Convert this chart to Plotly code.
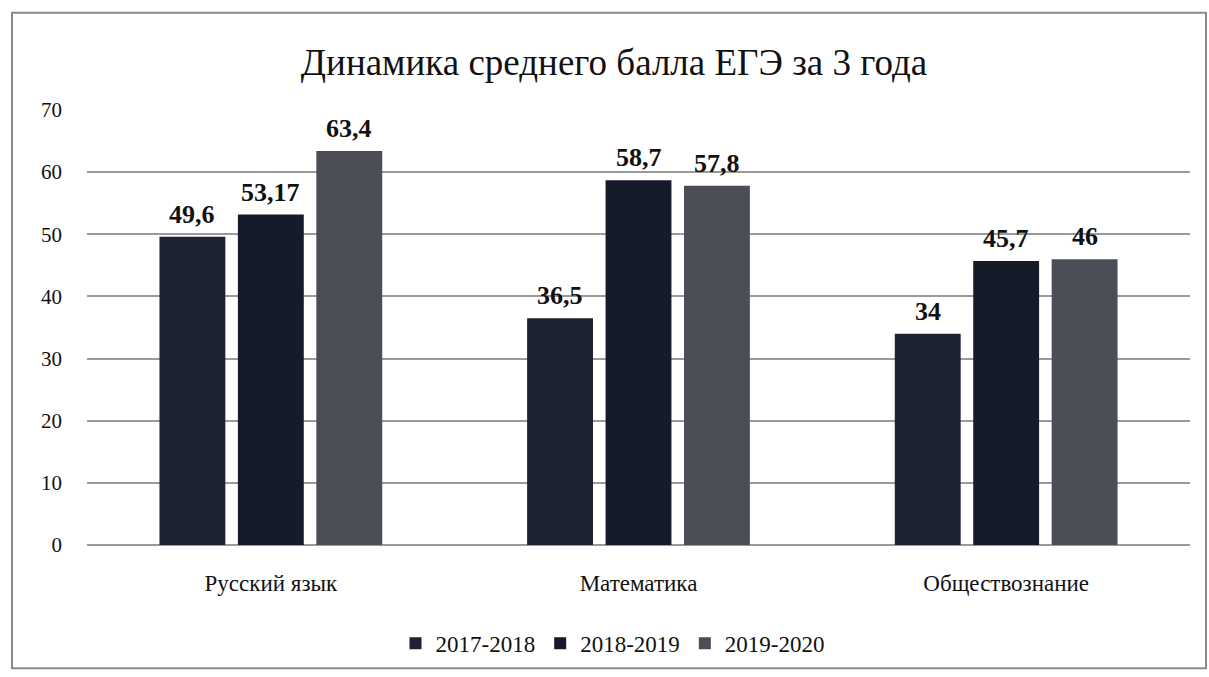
import plotly.graph_objects as go

categories = ["Русский язык", "Математика", "Обществознание"]
series_names = ["2017-2018", "2018-2019", "2019-2020"]
values_2017 = [49.6, 36.5, 34]
values_2018 = [53.17, 58.7, 45.7]
values_2019 = [63.4, 57.8, 46]
labels_2017 = ["49,6", "36,5", "34"]
labels_2018 = ["53,17", "58,7", "45,7"]
labels_2019 = ["63,4", "57,8", "46"]
y_ticks = [0, 10, 20, 30, 40, 50, 60, 70]

colors = ["#1d2331", "#151b29", "#4b4e56"]
FONT = "Liberation Serif, Times New Roman, serif"

W, H = 1209, 677
ml, mr, mt, mb = 87, 19, 110, 129
pw, ph = W - ml - mr, H - mt - mb
BARGAP = 0.36
BARGROUPGAP = 0.16

fig = go.Figure()
all_vals = [values_2017, values_2018, values_2019]
all_labs = [labels_2017, labels_2018, labels_2019]
for name, vals, col in zip(series_names, all_vals, colors):
    fig.add_trace(go.Bar(
        name=name, x=categories, y=vals,
        marker=dict(color=col, line=dict(width=0)),
    ))

# data labels placed above each bar
slot = (pw / len(categories)) * (1 - BARGAP) / len(series_names)
for i, (vals, labs) in enumerate(zip(all_vals, all_labs)):
    for cat, v, lab in zip(categories, vals, labs):
        fig.add_annotation(
            x=cat, y=v, xref="x", yref="y",
            text="<b>" + lab + "</b>", showarrow=False,
            xanchor="center", yanchor="bottom",
            xshift=(i - 1) * slot, yshift=6,
            font=dict(family=FONT, size=26, color="#111111"),
        )

def px_x(x):
    return (x - ml) / pw

def px_y(y):
    return (H - mb - y) / ph

fig.add_shape(type="rect", xref="paper", yref="paper",
              x0=px_x(12), x1=px_x(1206), y0=px_y(672), y1=px_y(12),
              line=dict(color="#8a8a8a", width=2), layer="below")

fig.update_layout(
    width=W, height=H,
    margin=dict(l=ml, r=mr, t=mt, b=mb),
    paper_bgcolor="white", plot_bgcolor="white",
    font=dict(family=FONT, color="#111111"),
    title=dict(text="Динамика среднего балла ЕГЭ за 3 года",
               x=614 / W, xanchor="center", y=1 - 62 / H, yanchor="middle",
               font=dict(family=FONT, size=37, color="#111111")),
    barmode="group", bargap=BARGAP, bargroupgap=BARGROUPGAP,
    showlegend=True,
    legend=dict(orientation="h", x=px_x(613), xanchor="center",
                y=px_y(647), yanchor="middle",
                font=dict(family=FONT, size=23, color="#111111"),
                itemwidth=30, traceorder="normal"),
    xaxis=dict(showgrid=False, showline=False, ticks="",
               tickfont=dict(family=FONT, size=23, color="#111111"),
               ticklabelstandoff=22),
    yaxis=dict(range=[0, 70], tickvals=y_ticks, showgrid=True,
               gridcolor="#9a9a9a", gridwidth=1.5, zeroline=True,
               zerolinecolor="#9a9a9a", zerolinewidth=1.5, showline=False,
               ticks="", tickfont=dict(family=FONT, size=21, color="#111111"),
               ticklabelstandoff=24),
)

fig.write_html("out.html", config={"displayModeBar": False},
               post_script="document.body.style.margin='0';document.body.style.overflow='hidden';")
